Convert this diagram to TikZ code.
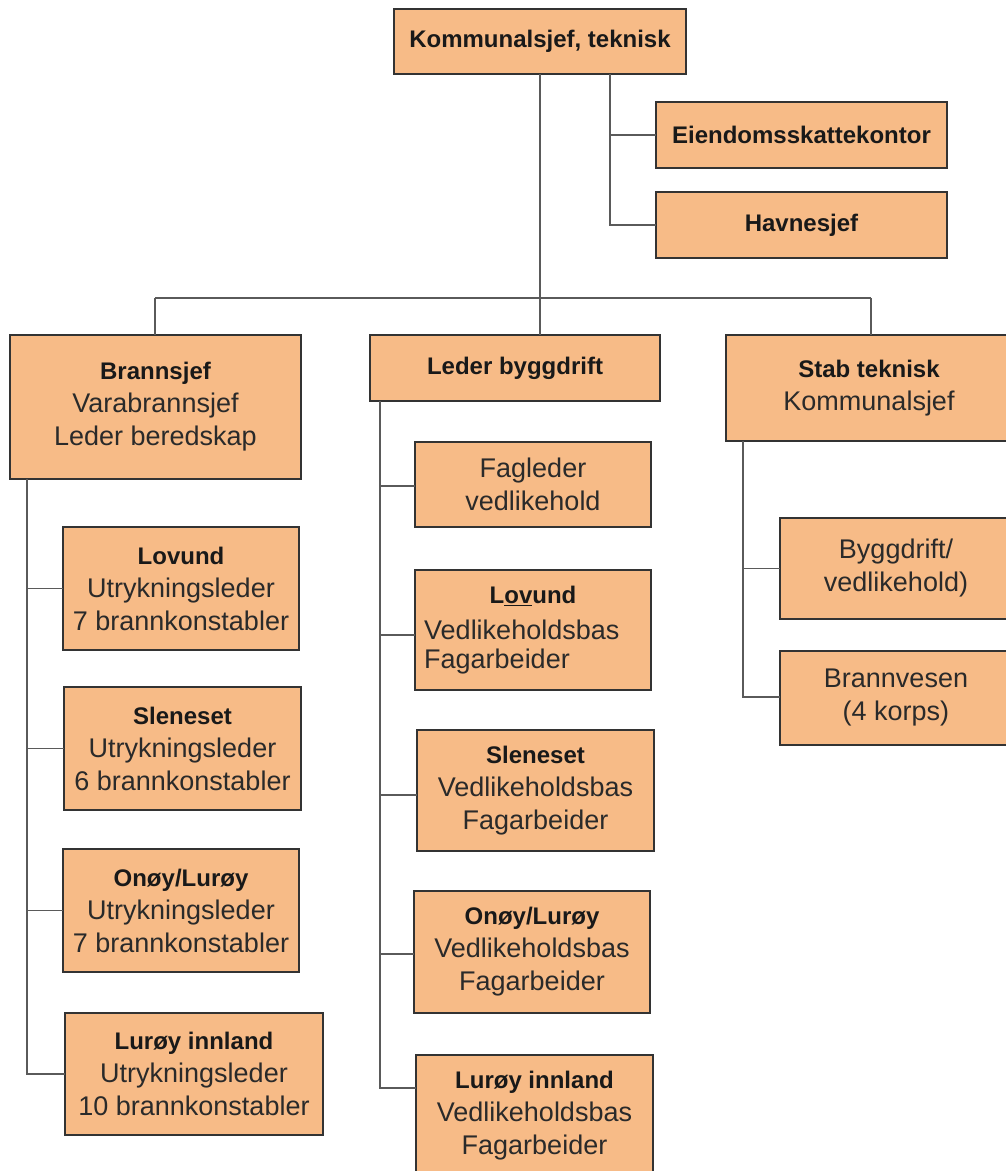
\documentclass[tikz,border=0pt]{standalone}
\usepackage{fontspec}
\setmainfont{Liberation Sans}
\definecolor{boxfill}{HTML}{F7BB87}
\definecolor{boxline}{HTML}{333333}
\definecolor{connline}{HTML}{5A5A5A}
\definecolor{txt}{HTML}{2A2A2A}
\newcommand\hd[1]{{\fontsize{24}{33}\selectfont\bfseries\color{black!90}#1}}
\tikzset{
  box/.style={draw=boxline, fill=boxfill, line width=1.2pt, inner sep=0pt, outer sep=0pt,
    align=center, text=txt, font=\fontsize{27}{33}\selectfont},
  conn/.style={draw=connline, line width=1.3pt},
  lbl/.style={inner sep=0pt, text=txt, font=\fontsize{27}{33}\selectfont}
}
\newcommand\ob[6]{\node[box, minimum width={#4pt-#2pt}, minimum height={#5pt-#3pt}] (#1) at ({(#2+#4)/2},{(#3+#5)/2}) {#6};}
\begin{document}
\begin{tikzpicture}[x=1pt,y=-1pt]
\useasboundingbox[fill=white] (0,0) rectangle (1005,1171);
% top
\ob{top}{394}{9}{686}{74}{\hd{Kommunalsjef, teknisk}}
\ob{eien}{656}{102}{947}{168}{\hd{Eiendomsskattekontor}}
\ob{hav}{656}{192}{947}{258}{\hd{Havnesjef}}
% level 2
\ob{bran}{10}{335}{301}{479}{\hd{Brannsjef}\\Varabrannsjef\\Leder beredskap}
\ob{byg}{370}{335}{660}{401}{\hd{Leder byggdrift}}
\ob{stab}{726}{335}{1012}{441}{\hd{Stab teknisk}\\Kommunalsjef}
% left column
\ob{l1}{63}{527}{299}{650}{\hd{Lovund}\\Utrykningsleder\\7 brannkonstabler}
\ob{l2}{64}{687}{301}{810}{\hd{Sleneset}\\Utrykningsleder\\6 brannkonstabler}
\ob{l3}{63}{849}{299}{972}{\hd{Onøy/Lurøy}\\Utrykningsleder\\7 brannkonstabler}
\ob{l4}{65}{1013}{323}{1135}{\hd{Lurøy innland}\\Utrykningsleder\\10 brannkonstabler}
% middle column
\ob{m1}{415}{442}{651}{527}{Fagleder\\vedlikehold}
\ob{m2}{415}{570}{651}{690}{}
\node[lbl] (m2a) at (533,596) {\hd{L\underline{ov}und}};
\node[lbl, anchor=west] (m2b) at (424,630) {Vedlikeholdsbas};
\node[lbl, anchor=west] (m2c) at (424,662) {Fagarbeider};
\ob{m3}{417}{730}{654}{851}{\hd{Sleneset}\\Vedlikeholdsbas\\Fagarbeider}
\ob{m4}{414}{891}{650}{1013}{\hd{Onøy/Lurøy}\\Vedlikeholdsbas\\Fagarbeider}
\ob{m5}{416}{1055}{653}{1177}{\hd{Lurøy innland}\\Vedlikeholdsbas\\Fagarbeider}
% right column
\ob{r1}{780}{518}{1012}{619}{Byggdrift/\\vedlikehold)}
\ob{r2}{780}{651}{1012}{745}{Brannvesen\\(4 korps)}
% connector coordinates
\coordinate (k) at (610,0);
\coordinate (bL) at (155,298);
\coordinate (bM) at (540,298);
\coordinate (bR) at (871,298);
\coordinate (lt) at (27,0);
\coordinate (mt) at (380,0);
\coordinate (rt) at (743,0);
\draw[conn] (top.south) -- (bM);
\draw[conn] (top.south -| k) |- (hav.west);
\draw[conn] (k |- eien.west) -- (eien.west);
\draw[conn] (bL) -- (bR);
\draw[conn] (bL) -- (bL |- bran.north);
\draw[conn] (bM) -- (bM |- byg.north);
\draw[conn] (bR) -- (bR |- stab.north);
% left trunk
\draw[conn] (bran.south -| lt) |- (l4.west);
\draw[conn] (lt |- l1.west) -- (l1.west);
\draw[conn] (lt |- l2.west) -- (l2.west);
\draw[conn] (lt |- l3.west) -- (l3.west);
% middle trunk
\coordinate (m1w) at (415,486);
\coordinate (m2w) at (415,635);
\coordinate (m3w) at (417,795);
\coordinate (m4w) at (414,954);
\coordinate (m5w) at (416,1088);
\draw[conn] (byg.south -| mt) |- (m5w);
\draw[conn] (mt |- m1w) -- (m1w);
\draw[conn] (mt |- m2w) -- (m2w);
\draw[conn] (mt |- m3w) -- (m3w);
\draw[conn] (mt |- m4w) -- (m4w);
% right trunk
\coordinate (r2w) at (780,697);
\draw[conn] (stab.south -| rt) |- (r2w);
\draw[conn] (rt |- r1.west) -- (r1.west);
\end{tikzpicture}
\end{document}
